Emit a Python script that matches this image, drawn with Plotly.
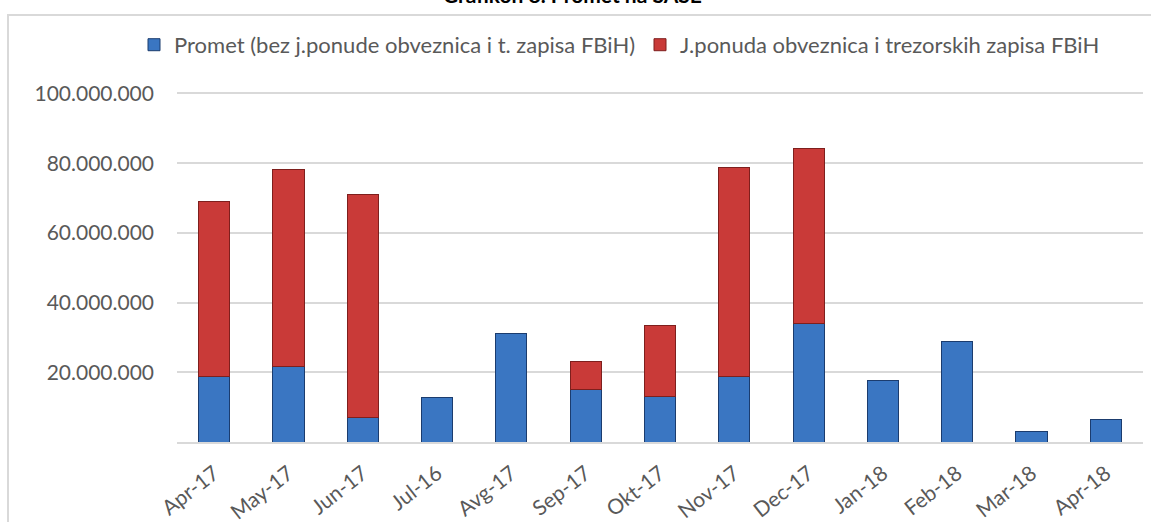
import plotly.graph_objects as go

categories = ["Apr-17", "May-17", "Jun-17", "Jul-16", "Avg-17", "Sep-17", "Okt-17",
              "Nov-17", "Dec-17", "Jan-18", "Feb-18", "Mar-18", "Apr-18"]
promet = [18_800_000, 21_700_000, 6_900_000, 12_700_000, 31_100_000, 15_000_000, 13_100_000,
          18_800_000, 34_100_000, 17_700_000, 28_800_000, 3_000_000, 6_400_000]
ponuda = [50_200_000, 56_600_000, 64_200_000, None, None, 8_100_000, 20_300_000,
          60_000_000, 50_200_000, None, None, None, None]
name_promet = "Promet (bez j.ponude obveznica i t. zapisa FBiH)"
name_ponuda = "J.ponuda obveznica i trezorskih zapisa FBiH"
title_text = "Grafikon 8. Promet na SASE"
y_ticks = [20_000_000, 40_000_000, 60_000_000, 80_000_000, 100_000_000]

FONT = "Lato, Open Sans, sans-serif"
GRAY = "#595959"

fig = go.Figure()
fig.add_trace(go.Bar(x=categories, y=promet, name=name_promet,
                     marker=dict(color="#3A76C2", line=dict(color="#1B3C6E", width=1))))
fig.add_trace(go.Bar(x=categories, y=ponuda, name=name_ponuda,
                     marker=dict(color="#C93A38", line=dict(color="#7E1F1D", width=1))))

W, H = 1151, 522
Y_MAX = 101_000_000
ml, mr = 177, 8
mb = 79.7
ph = (442.3 - 93.6) * Y_MAX / 100_000_000
mt = H - mb - ph
pw = W - ml - mr

def px_x(p):
    return (p - ml) / pw

def px_y(p):
    return (H - mb - p) / ph

fig.update_layout(
    width=W, height=H,
    barmode="stack", bargap=0.58,
    separators=",.",
    paper_bgcolor="white", plot_bgcolor="white",
    margin=dict(l=ml, r=mr, t=mt, b=mb, pad=0),
    font=dict(family=FONT, size=21, color=GRAY),
    showlegend=True,
    legend=dict(orientation="h", x=px_x(134), xanchor="left",
                y=px_y(45), yanchor="middle",
                font=dict(family=FONT, size=22, color=GRAY),
                traceorder="normal", itemwidth=30, entrywidth=461,
                bgcolor="rgba(0,0,0,0)"),
    xaxis=dict(type="category", tickangle=-38, showgrid=False, automargin=False,
               showline=True, linecolor="#D9D9D9", linewidth=2,
               ticks="", ticklabelstandoff=9,
               tickfont=dict(family=FONT, size=21, color=GRAY)),
    yaxis=dict(range=[0, Y_MAX], tickvals=y_ticks, tickformat=",.0f", automargin=False,
               showgrid=True, gridcolor="#D9D9D9", gridwidth=2,
               zeroline=False, showline=False, ticks="",
               ticklabelstandoff=22,
               tickfont=dict(family=FONT, size=21, color=GRAY)),
    shapes=[dict(type="rect", xref="paper", yref="paper",
                 x0=px_x(8), x1=px_x(1165), y0=px_y(540), y1=px_y(15),
                 line=dict(color="#D9D9D9", width=2), fillcolor="rgba(0,0,0,0)",
                 layer="below")],
    annotations=[dict(text=f"<b>{title_text}</b>", xref="paper", yref="paper",
                      x=px_x(572), y=px_y(9), xanchor="center", yanchor="bottom",
                      showarrow=False, font=dict(family=FONT, size=21, color="#000000"))],
)

fig.write_html("out.html", config={"displayModeBar": False},
               post_script="document.body.style.margin='0';document.body.style.overflow='hidden';")
